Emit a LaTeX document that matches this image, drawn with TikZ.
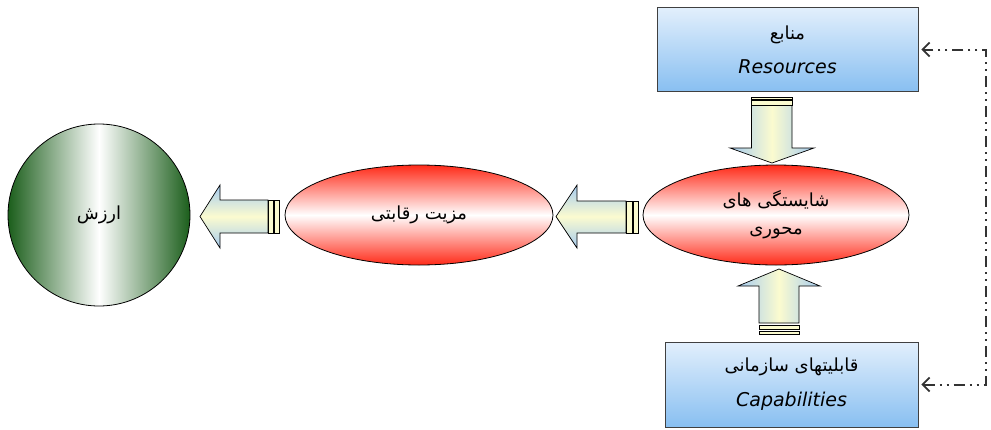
\documentclass[tikz,border=0pt]{standalone}
\usepackage{fontspec}
\usetikzlibrary{arrows.meta,shapes.geometric,calc}
\newfontfamily\arabicfont[Script=Arabic]{DejaVu Sans}
\newfontfamily\latinfont[ItalicFont={DejaVu Sans Oblique}]{DejaVu Sans}
\TeXXeTstate=1
\definecolor{boxtop}{HTML}{E2EFFC}
\definecolor{boxbot}{HTML}{88BFF1}
\definecolor{ellred}{HTML}{FF2A18}
\definecolor{dgreen}{HTML}{1B5E1B}
\definecolor{arrblue}{HTML}{A6CCF0}
\definecolor{arryel}{HTML}{FBFBCF}
\definecolor{linegray}{HTML}{333333}
\tikzset{
  boxnode/.style={rectangle, draw=black!75, line width=0.8pt, top color=boxtop, bottom color=boxbot, inner sep=0pt, align=center},
  ellnode/.style={ellipse, draw=black, line width=0.8pt, top color=ellred, bottom color=ellred, middle color=white, inner sep=0pt, align=center},
  circnode/.style={circle, draw=black, line width=0.8pt, left color=dgreen, right color=dgreen, middle color=white, inner sep=0pt, align=center},
  harrow/.style={draw=black, line width=0.7pt, top color=arrblue, bottom color=arrblue, middle color=arryel},
  varrow/.style={draw=black, line width=0.7pt, left color=arrblue, right color=arrblue, middle color=arryel},
  barrect/.style={draw=black, line width=0.7pt, fill=arryel},
  conn/.style={draw=linegray, line width=2pt, dash pattern=on 11pt off 5pt on 2pt off 5pt on 2pt off 5pt, {Straight Barb[length=7pt,width=14pt,line width=1.8pt]}-{Straight Barb[length=7pt,width=14pt,line width=1.8pt]}},
}
\newcommand{\fa}[1]{{\arabicfont\fontsize{18}{20}\selectfont\beginR #1\endR}}
\newcommand{\en}[1]{{\latinfont\itshape\fontsize{19}{20}\selectfont #1}}
\begin{document}
\begin{tikzpicture}[x=1pt,y=-1pt]
\useasboundingbox (0,0) rectangle (991,429);

% nodes
\node[boxnode, minimum width=261pt, minimum height=84pt] (res) at (787.5,49.5) {\fa{منابع}\\[15pt]\en{Resources}};
\node[boxnode, minimum width=253pt, minimum height=85pt] (cap) at (791.5,384.5) {\fa{قابلیتهای سازمانی}\\[15pt]\en{Capabilities}};
\node[ellnode, minimum width=266pt, minimum height=100pt] (core) at (776,215) {\fa{شایستگی های}\\[16pt]\fa{محوری}};
\node[ellnode, minimum width=268pt, minimum height=100pt] (adv) at (419,215) {\fa{مزیت رقابتی}};
\node[circnode, minimum size=182pt] (val) at (99,215) {\fa{ارزش}};

% block arrow: value <- advantage
\path[harrow] (200,216.5) -- (220,185) -- (220,200) -- (268,200) -- (268,233) -- (220,233) -- (220,248) -- cycle;
\path[barrect] (268,200) rectangle (273,233);
\path[barrect] (274.5,200) rectangle (279,233);

% block arrow: advantage <- core
\path[harrow] (556,216.5) -- (577,185) -- (577,201) -- (626,201) -- (626,233) -- (577,233) -- (577,248) -- cycle;
\path[barrect] (626,201) rectangle (632,233);
\path[barrect] (633.5,201) rectangle (638,233);

% block arrow: resources -> core
\path[varrow] (772,163) -- (730,148) -- (751.5,148) -- (751.5,105) -- (792,105) -- (792,148) -- (814,148) -- cycle;
\path[barrect] (751.5,100.5) rectangle (792,105);
\path[barrect] (751.5,97) rectangle (792,99.5);

% block arrow: capabilities -> core
\path[varrow] (779,269) -- (820,286) -- (799,286) -- (799,323) -- (759,323) -- (759,286) -- (738,286) -- cycle;
\path[barrect] (759,325.5) rectangle (799,329.5);
\path[barrect] (759,331) rectangle (799,334);

% feedback connector
\coordinate (rt) at (986,49.5);
\draw[conn] ([xshift=3pt]cap.east) -| (rt) -- ([xshift=3pt]res.east);
\end{tikzpicture}
\end{document}
